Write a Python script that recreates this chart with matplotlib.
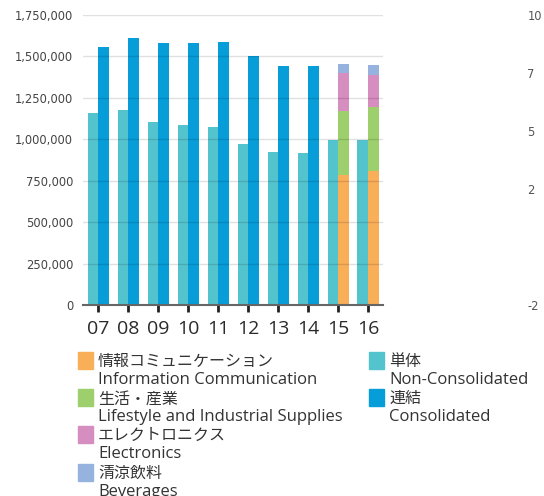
import numpy as np
import matplotlib
matplotlib.use("Agg")
import matplotlib.pyplot as plt
from matplotlib.patches import Rectangle

plt.rcParams['font.family'] = ['Open Sans', 'Noto Sans CJK JP', 'DejaVu Sans']

years = ['07', '08', '09', '10', '11', '12', '13', '14', '15', '16']
non_consolidated = [1160000, 1178000, 1106000, 1088000, 1076000, 973000, 925000, 919000, 998000, 998000]
consolidated = [1559000, 1613000, 1583000, 1583000, 1589000, 1504000, 1444000, 1444000, None, None]

# segment breakdown for 15 and 16
seg_years = ['15', '16']
info_comm = [782000, 810000]
lifestyle = [386000, 382000]
electronics = [230000, 196000]
beverages = [58000, 62000]

right_ticks = [-2.5, 2.5, 5, 7.5, 10]
right_labels = ['-2', '2', '5', '7', '10']

c_non = '#53c3ce'
c_con = '#069dd9'
c_info = '#f9ae58'
c_life = '#9dcf6c'
c_elec = '#d68dbf'
c_bev = '#95b3de'
txt = '#333333'

W, H = 544, 496
fig = plt.figure(figsize=(W / 100, H / 100), dpi=100)
ax = fig.add_axes([83 / W, 1 - 305 / H, 300 / W, 290 / H])

x = np.arange(len(years))
bw = 0.35
ax.bar(x - bw / 2, non_consolidated, bw, color=c_non, zorder=2)
xc = [i for i, v in enumerate(consolidated) if v is not None]
ax.bar(x[xc] + bw / 2, [consolidated[i] for i in xc], bw, color=c_con, zorder=2)

xs = np.array([years.index(y) for y in seg_years]) + bw / 2
bottom = np.zeros(len(seg_years))
for vals, col in [(info_comm, c_info), (lifestyle, c_life), (electronics, c_elec), (beverages, c_bev)]:
    ax.bar(xs, vals, bw, bottom=bottom, color=col, zorder=2)
    bottom += np.array(vals)

ax.set_xlim(-0.5, len(years) - 0.5)
ax.set_ylim(0, 1750000)
ax.set_yticks(np.arange(0, 1750001, 250000))
ax.yaxis.set_major_formatter(matplotlib.ticker.FuncFormatter(lambda v, p: f'{int(v):,}'))
ax.grid(axis='y', color='black', alpha=0.12, linewidth=1, zorder=3)
ax.set_axisbelow(False)
ax.set_xticks(x)
ax.set_xticklabels(years, fontsize=14, color='#2a2a2a')
ax.tick_params(axis='x', length=5, width=2, color='#222222', pad=6)
ax.tick_params(axis='y', length=0, labelsize=8.3, labelcolor='#444444', pad=7)
for lb in ax.get_yticklabels():
    lb.set_family('DejaVu Sans')
for s in ['top', 'right', 'left']:
    ax.spines[s].set_visible(False)
ax.spines['bottom'].set_color('#666666')
ax.spines['bottom'].set_linewidth(1.5)
ax.spines['bottom'].set_zorder(4)

ax2 = ax.twinx()
ax2.set_ylim(-2.5, 10)
ax2.set_yticks(right_ticks)
ax2.set_yticklabels(right_labels, family='DejaVu Sans')
ax2.tick_params(axis='y', length=0, labelsize=8.3, labelcolor='#555555', pad=104)
for s in ax2.spines.values():
    s.set_visible(False)

# legend drawn by hand
def item(px, py, col, jp, en):
    fig.patches.append(Rectangle((px / W, 1 - (py + 17) / H), 15 / W, 17 / H,
                                 transform=fig.transFigure, color=col))
    fig.text((px + 20) / W, 1 - (py + 10) / H, jp, fontsize=11.5, color=txt, va='center')
    fig.text((px + 20) / W, 1 - (py + 28) / H, en, fontsize=12, color=txt, va='center')

left_items = [(c_info, '情報コミュニケーション', 'Information Communication'),
              (c_life, '生活・産業', 'Lifestyle and Industrial Supplies'),
              (c_elec, 'エレクトロニクス', 'Electronics'),
              (c_bev, '清涼飲料', 'Beverages')]
for i, (c, jp, en) in enumerate(left_items):
    item(78, 352 + 37.2 * i, c, jp, en)
right_items = [(c_non, '単体', 'Non-Consolidated'), (c_con, '連結', 'Consolidated')]
for i, (c, jp, en) in enumerate(right_items):
    item(369, 352 + 37.2 * i, c, jp, en)

fig.savefig('out.png', dpi=100)
